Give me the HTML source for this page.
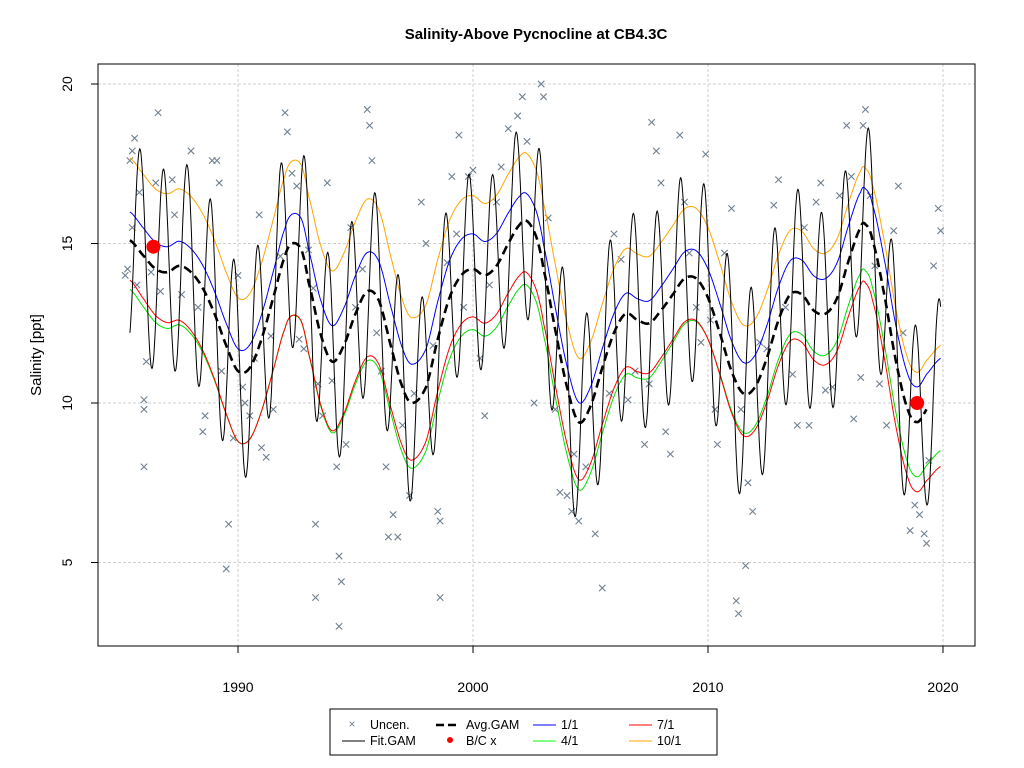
<!DOCTYPE html>
<html><head><meta charset="utf-8">
<style>
body{margin:0;background:#fff;font-family:"Liberation Sans",Arial,sans-serif;}
svg{display:block}
</style></head>
<body>
<svg id="chart" width="1024" height="768" xmlns="http://www.w3.org/2000/svg">
<rect width="1024" height="768" fill="#fff"/>
<text x="536" y="39" text-anchor="middle" font-weight="bold" font-size="15">Salinity-Above Pycnocline at CB4.3C</text>
<text transform="translate(41,355) rotate(-90)" text-anchor="middle" font-size="15">Salinity [ppt]</text>
<g id="grid"></g>
<g id="pts"></g>
<g id="lines"></g>
<g id="axes"></g>
<rect x="98" y="64" width="877" height="582" fill="none" stroke="#000" stroke-width="1"/>
<g>
<rect x="330" y="709" width="387" height="46" fill="#fff" stroke="#000"/>
<text x="352" y="728" font-size="12" fill="#708090" text-anchor="middle">×</text>
<text x="370" y="729" font-size="12.5">Uncen.</text>
<line x1="342" y1="741" x2="365" y2="741" stroke="#000"/>
<text x="370" y="745" font-size="12.5">Fit.GAM</text>
<line x1="436" y1="725" x2="459" y2="725" stroke="#000" stroke-width="2.5" stroke-dasharray="8,4"/>
<text x="466" y="729" font-size="12.5">Avg.GAM</text>
<circle cx="450" cy="740" r="3" fill="#f00"/>
<text x="466" y="745" font-size="12.5">B/C x</text>
<line x1="533" y1="725" x2="556" y2="725" stroke="#00f"/>
<text x="561" y="729" font-size="12.5">1/1</text>
<line x1="533" y1="741" x2="556" y2="741" stroke="#0f0"/>
<text x="561" y="745" font-size="12.5">4/1</text>
<line x1="629" y1="725" x2="652" y2="725" stroke="#f00"/>
<text x="657" y="729" font-size="12.5">7/1</text>
<line x1="629" y1="741" x2="652" y2="741" stroke="#ffa500"/>
<text x="657" y="745" font-size="12.5">10/1</text>
</g>
</svg>
<script>
const xTicks=[1990,2000,2010,2020];
const yTicks=[5,10,15,20];
const avgYears=[1985.4,1986,1986.5,1987,1987.5,1988,1988.5,1989,1989.5,1990,1990.5,1991,1991.5,1992,1992.3,1992.7,1993,1993.5,1994,1994.5,1995,1995.5,1996,1996.5,1997,1997.4,1998,1998.5,1999,1999.5,2000,2000.5,2001,2001.5,2002,2002.3,2002.7,2003,2003.5,2004,2004.5,2005,2005.5,2006,2006.5,2007,2007.5,2008,2008.5,2009,2009.5,2010,2010.5,2011,2011.5,2012,2012.5,2013,2013.5,2014,2014.5,2015,2015.5,2016,2016.5,2016.7,2017,2017.5,2018,2018.5,2018.9,2019.3,2019.9];
const avgValues=[15.1,14.6,14.2,14.1,14.3,14.1,13.6,12.8,11.8,11.0,11.1,12.0,13.3,14.6,15.0,14.8,13.8,12.2,11.3,11.8,12.8,13.5,13.2,11.8,10.5,10.0,10.5,12.0,13.3,14.0,14.2,14.0,14.3,15.0,15.6,15.7,15.2,14.2,12.3,10.5,9.4,9.9,11.1,12.2,12.8,12.6,12.5,12.9,13.4,13.9,13.9,13.3,12.2,11.0,10.3,10.5,11.4,12.6,13.4,13.4,12.9,12.8,13.3,14.5,15.5,15.6,15.1,13.4,11.3,9.8,9.4,9.8,10.3];
const offYears=[1985,1990,1995,2000,2005,2010,2015,2020];
const off11=[0.9,0.7,1.2,1.1,0.6,0.9,1.1,1.1];
const off41=[-1.5,-2.2,-2.2,-1.9,-2.1,-1.3,-1.3,-1.8];
const off71=[-1.2,-2.2,-2.1,-1.5,-1.8,-1.3,-1.6,-2.3];
const off101=[2.6,2.3,2.9,2.3,2.0,2.2,1.9,1.5];
const fitAmp=[3.2,3.3,3.2,3.0,3.2,3.3,3.2,3.0];
const bcYears=[1986.4,2018.9];
const bcValues=[14.9,10.0];
const ptYears=[1985.2,1985.3,1985.4,1985.5,1985.6,1985.5,1985.7,1985.8,1986.0,1986.0,1986.1,1986.0,1986.3,1986.5,1986.6,1986.7,1987.2,1987.3,1987.6,1988.0,1988.3,1988.5,1988.6,1988.9,1989.1,1989.2,1989.3,1989.5,1989.6,1989.8,1990.0,1990.2,1990.3,1990.5,1990.7,1990.9,1991.0,1991.2,1991.4,1991.5,1991.8,1992.0,1992.1,1992.3,1992.5,1992.6,1992.8,1993.0,1993.2,1993.4,1993.3,1993.3,1993.6,1993.8,1994.0,1994.2,1994.3,1994.4,1994.3,1994.6,1994.8,1995.0,1995.3,1995.5,1995.6,1995.7,1995.9,1996.1,1996.3,1996.4,1996.6,1996.8,1997.0,1997.3,1997.5,1997.8,1998.0,1998.3,1998.5,1998.6,1998.6,1998.9,1999.1,1999.3,1999.4,1999.6,1999.8,2000.0,2000.3,2000.5,2000.7,2001.0,2001.2,2001.5,2001.9,2002.1,2002.3,2002.6,2002.9,2003.0,2003.2,2003.5,2003.7,2004.0,2004.2,2004.3,2004.5,2004.8,2005.2,2005.5,2005.8,2006.0,2006.3,2006.6,2006.9,2007.3,2007.5,2007.6,2007.8,2008.0,2008.2,2008.4,2008.8,2009.0,2009.2,2009.5,2009.7,2009.9,2010.1,2010.3,2010.4,2010.7,2011.0,2011.2,2011.3,2011.4,2011.6,2011.7,2011.9,2012.2,2012.5,2012.8,2013.0,2013.3,2013.6,2013.8,2014.1,2014.3,2014.6,2014.8,2015.0,2015.3,2015.6,2015.9,2016.1,2016.2,2016.5,2016.6,2016.7,2016.9,2017.1,2017.3,2017.6,2017.9,2018.1,2018.3,2018.6,2018.8,2019.0,2019.2,2019.3,2019.4,2019.6,2019.8,2019.9];
const ptValues=[14.0,14.2,17.6,17.9,18.3,15.5,13.7,16.6,10.1,9.8,11.3,8.0,14.1,16.9,19.1,13.5,17.0,15.9,13.4,17.9,13.0,9.1,9.6,17.6,17.6,16.9,11.0,4.8,6.2,8.9,14.0,10.5,10.0,9.6,11.4,15.9,8.6,8.3,12.1,9.8,14.6,19.1,18.5,17.2,16.8,12.0,11.7,14.8,13.6,10.6,6.2,3.9,9.6,16.9,10.7,8.0,5.2,4.4,3.0,8.7,15.5,13.0,14.2,19.2,18.7,17.6,12.2,11.0,8.0,5.8,6.5,5.8,9.3,7.1,10.3,16.3,15.0,11.8,6.6,6.3,3.9,14.4,17.1,15.3,18.4,13.0,17.1,17.3,11.4,9.6,13.7,16.3,17.4,18.6,19.0,19.6,18.2,10.0,20.0,19.6,15.8,9.8,7.2,7.1,6.6,8.4,6.3,8.0,5.9,4.2,10.3,15.3,14.5,10.1,11.0,8.7,10.6,18.8,17.9,16.9,9.1,8.4,18.4,16.3,14.7,13.0,11.9,17.8,12.6,9.8,8.7,14.7,16.1,3.8,3.4,9.8,4.9,7.5,6.6,11.9,11.7,16.2,17.0,13.0,10.9,9.3,15.5,9.3,16.3,16.9,10.4,10.5,16.5,18.7,17.1,9.5,10.8,18.7,19.2,16.5,14.3,10.6,9.3,15.4,16.8,12.2,6.0,6.8,6.5,5.9,5.6,8.2,14.3,16.1,15.4];

const X=t=>238+(t-1990)*23.5;
const Y=v=>403-(v-10)*31.9;
const NS='http://www.w3.org/2000/svg';
function mk(tag,attrs,parent){const e=document.createElementNS(NS,tag);for(const k in attrs)e.setAttribute(k,attrs[k]);parent.appendChild(e);return e;}
function interp(xs,ys,t){
  if(t<=xs[0])return ys[0];if(t>=xs[xs.length-1])return ys[ys.length-1];
  let i=0;while(xs[i+1]<t)i++;
  const p0=ys[Math.max(i-1,0)],p1=ys[i],p2=ys[i+1],p3=ys[Math.min(i+2,ys.length-1)];
  const u=(t-xs[i])/(xs[i+1]-xs[i]);
  return 0.5*((2*p1)+(-p0+p2)*u+(2*p0-5*p1+4*p2-p3)*u*u+(-p0+3*p1-3*p2+p3)*u*u*u);
}
const grid=document.getElementById('grid');
const axes=document.getElementById('axes');
xTicks.forEach(t=>{
  const g=mk('line',{x1:X(t),x2:X(t),y1:64,y2:646,stroke:'#cfcfcf','stroke-dasharray':'3,2'},grid);
  
  
  mk('line',{x1:X(t),x2:X(t),y1:646,y2:653,stroke:'#000'},axes);
  const tx=mk('text',{x:X(t),y:692,'text-anchor':'middle','font-size':'14'},axes);
  
  
  tx.textContent=t;
});
yTicks.forEach(v=>{
  const g=mk('line',{x1:98,x2:975,y1:Y(v),y2:Y(v),stroke:'#cfcfcf','stroke-dasharray':'3,2'},grid);
  
  
  mk('line',{x1:91,x2:98,y1:Y(v),y2:Y(v),stroke:'#000'},axes);
  const tx=mk('text',{transform:`translate(72,${Y(v)}) rotate(-90)`,'text-anchor':'middle','font-size':'14'},axes);
  
  
  tx.textContent=v;
});
mk('line',{x1:X(1990),x2:X(2020),y1:646,y2:646,stroke:'#000'},axes);
mk('line',{x1:98,x2:98,y1:Y(5),y2:Y(20),stroke:'#000'},axes);

const pts=document.getElementById('pts');
ptYears.forEach((t,i)=>{
  const x=X(t),y=Y(ptValues[i]),s=3.2;
  const p=mk('path',{d:`M${x-s},${y-s}L${x+s},${y+s}M${x-s},${y+s}L${x+s},${y-s}`,stroke:'#708090','stroke-width':'1.1',fill:'none'},pts);
  
  
});
const lines=document.getElementById('lines');
const t0=avgYears[0],t1=2019.9;
function poly(fn,color,w,dash,name,tEnd){
  let d='';for(let t=t0;t<=(tEnd||t1)+1e-9;t+=0.02){d+=(d?'L':'M')+X(t).toFixed(1)+','+Y(fn(t)).toFixed(1);}
  const p=mk('path',{d:d,stroke:color,'stroke-width':w,fill:'none'},lines);
  if(dash)p.setAttribute('stroke-dasharray',dash);
  
  
}
const avg=t=>interp(avgYears,avgValues,t);
poly(t=>avg(t)+interp(offYears,off41,t),'#00e000',1,null,'flow-4-1-line');
poly(t=>avg(t)+interp(offYears,off71,t),'#ff0000',1,null,'flow-7-1-line');
poly(t=>avg(t)+interp(offYears,off11,t),'#0000ff',1,null,'flow-1-1-line');
poly(t=>avg(t)+interp(offYears,off101,t),'#ffa500',1,null,'flow-10-1-line');
poly(t=>avg(t)+interp(offYears,fitAmp,t)*Math.sin(2*Math.PI*(t-0.58)),'#000',1,null,'fit-gam-line');
poly(avg,'#000',2.6,'9,5','avg-gam-line',2019.3);
bcYears.forEach((t,i)=>{
  const c=mk('circle',{cx:X(t),cy:Y(bcValues[i]),r:7,fill:'#f00'},lines);
  
  
});
</script>
</body></html>
